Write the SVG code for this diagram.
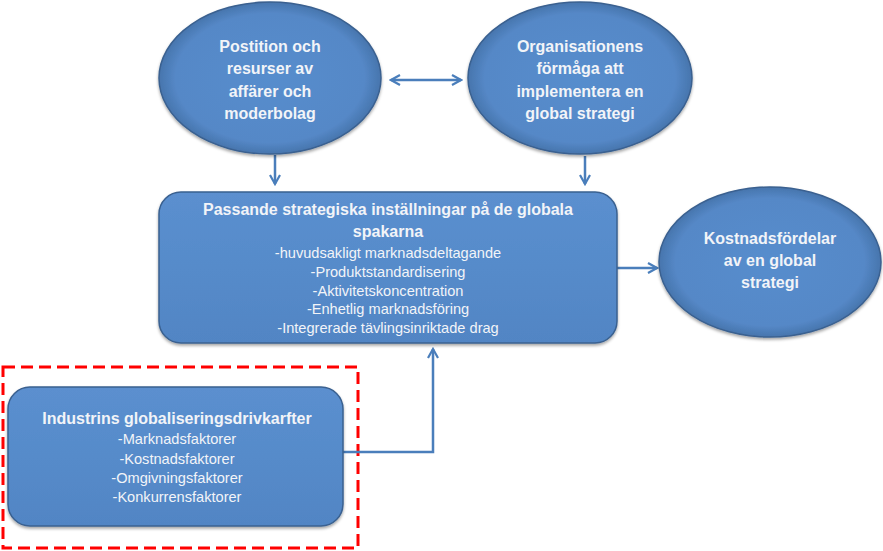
<svg xmlns="http://www.w3.org/2000/svg" width="883" height="551" viewBox="0 0 883 551">
<defs>
<radialGradient id="eg" cx="50%" cy="50%" r="50%">
<stop offset="0" stop-color="#578dcd"/>
<stop offset="0.85" stop-color="#5588c7"/>
<stop offset="1" stop-color="#4775ad"/>
</radialGradient>
<linearGradient id="rg" x1="0" y1="0" x2="0" y2="1">
<stop offset="0" stop-color="#5b8fcf"/>
<stop offset="0.5" stop-color="#568bca"/>
<stop offset="1" stop-color="#5185c4"/>
</linearGradient>
<filter id="sh" x="-10%" y="-10%" width="120%" height="130%">
<feDropShadow dx="0" dy="2" stdDeviation="1.5" flood-color="#000" flood-opacity="0.35"/>
</filter>
<marker id="ah" viewBox="0 0 12 12" refX="10" refY="6" markerWidth="12" markerHeight="12" markerUnits="userSpaceOnUse" orient="auto-start-reverse">
<path d="M1,1 L10,6 L1,11" fill="none" stroke="#4a7ebb" stroke-width="2.2"/>
</marker>
</defs>
<style>
.shape{stroke:#3a6190;stroke-width:1.5;filter:url(#sh)}
.el{fill:url(#eg)}
.rc{fill:url(#rg)}
.tb{font-family:"Liberation Sans",Arial,sans-serif;font-weight:bold;font-size:16px;fill:#f2f4f8;text-anchor:middle}
.tr{font-family:"Liberation Sans",Arial,sans-serif;font-size:14.6px;fill:#f2f4f8;text-anchor:middle}
.cn{fill:none;stroke:#4a7ebb;stroke-width:2.5}
</style>
<rect x="3" y="367" width="355" height="181" fill="none" stroke="#ff0000" stroke-width="3" stroke-dasharray="12,6"/>
<g id="connectors">
<line class="cn" x1="391" y1="80" x2="461" y2="80" marker-start="url(#ah)" marker-end="url(#ah)"/>
<line class="cn" x1="275" y1="155" x2="275" y2="184" marker-end="url(#ah)"/>
<line class="cn" x1="585" y1="156" x2="585" y2="184" marker-end="url(#ah)"/>
<line class="cn" x1="617" y1="268" x2="657" y2="268" marker-end="url(#ah)"/>
<polyline class="cn" points="343,452 433,452 433,349" marker-end="url(#ah)"/>
</g>
<g id="node-position">
<ellipse class="shape el" cx="270" cy="78" rx="111" ry="76"/>
<text class="tb" x="270" y="52">Postition och</text>
<text class="tb" x="270" y="74">resurser av</text>
<text class="tb" x="270" y="97">affärer och</text>
<text class="tb" x="270" y="119">moderbolag</text>
</g>
<g id="node-organisation">
<ellipse class="shape el" cx="580" cy="78" rx="112" ry="76"/>
<text class="tb" x="580" y="52">Organisationens</text>
<text class="tb" x="580" y="74">förmåga att</text>
<text class="tb" x="580" y="97">implementera en</text>
<text class="tb" x="580" y="119">global strategi</text>
</g>
<g id="node-passande">
<rect class="shape rc" x="159" y="192" width="458" height="151" rx="22"/>
<text class="tb" x="388" y="215">Passande strategiska inställningar på de globala</text>
<text class="tb" x="388" y="237">spakarna</text>
<text class="tr" x="388" y="258">-huvudsakligt marknadsdeltagande</text>
<text class="tr" x="388" y="277">-Produktstandardisering</text>
<text class="tr" x="388" y="296">-Aktivitetskoncentration</text>
<text class="tr" x="388" y="314">-Enhetlig marknadsföring</text>
<text class="tr" x="388" y="333">-Integrerade tävlingsinriktade drag</text>
</g>
<g id="node-kostnad">
<ellipse class="shape el" cx="770" cy="262" rx="111" ry="75"/>
<text class="tb" x="770" y="244">Kostnadsfördelar</text>
<text class="tb" x="770" y="266">av en global</text>
<text class="tb" x="770" y="288">strategi</text>
</g>
<g id="node-industri">
<rect class="shape rc" x="8" y="387" width="335" height="139" rx="22"/>
<text class="tb" x="177" y="424">Industrins globaliseringsdrivkarfter</text>
<text class="tr" x="177" y="444">-Marknadsfaktorer</text>
<text class="tr" x="177" y="464">-Kostnadsfaktorer</text>
<text class="tr" x="177" y="483">-Omgivningsfaktorer</text>
<text class="tr" x="177" y="502">-Konkurrensfaktorer</text>
</g>
</svg>
